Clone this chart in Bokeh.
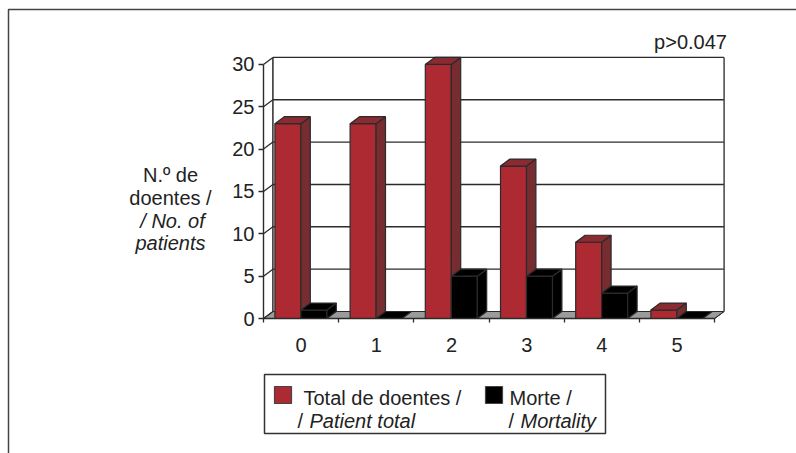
from bokeh.plotting import figure
from bokeh.models import LinearAxis, FixedTicker, Range1d
from bokeh.core.properties import value
from bokeh.embed import file_html
from bokeh.resources import INLINE

categories = ["0", "1", "2", "3", "4", "5"]
patient_total = [23, 23, 30, 18, 9, 1]
mortality = [1, 0, 5, 5, 3, 0]
y_ticks = [0, 5, 10, 15, 20, 25, 30]

FONT = "Liberation Sans"
SIZE = "20px"
W, H = 796, 453
ORIGIN = 0
X0, XU = 263.0, 75.2     # page px of category edge 0, px per category
Y0, YU = 318.0, 8.47     # page px of value 0, px per unit
DX, DY = 9.4 / XU, 7.0 / YU   # 3-D depth in data units
BAR_OFF, BAR_W = 11.4 / XU, 26.0 / XU

def px(x): return (x - X0) / XU
def py(y): return (Y0 - y) / YU

p = figure(width=W, height=H, output_backend="svg", toolbar_location=None,
           x_range=Range1d(px(ORIGIN), px(ORIGIN + W)), y_range=Range1d(py(ORIGIN + H), py(ORIGIN)),
           min_border=0, min_border_left=0, min_border_right=0, min_border_top=0,
           min_border_bottom=0, outline_line_color=None, x_axis_location=None,
           y_axis_location=None)
p.grid.visible = False
p.background_fill_color = "white"
p.border_fill_color = "white"

INK = "#2b2b2b"
n = len(categories)
RED, RED_SIDE, RED_TOP = "#ae2a33", "#772c30", "#8a2a31"

# outer page rule
p.line([px(8), px(8), px(796)], [py(453), py(9), py(9)], line_color="#444444", line_width=1.5)

# floor
p.patch([0, DX, n + DX, n], [0, DY, DY, 0], fill_color="#9a9c9c", line_color=INK, line_width=1)

# back-wall grid, side-wall diagonals, wall verticals
for t in y_ticks:
    if t:
        p.line([DX, n + DX], [t + DY, t + DY], line_color=INK, line_width=1.4)
    p.line([0, DX], [t, t + DY], line_color=INK, line_width=1.3)
top = y_ticks[-1] + DY
p.line([DX, DX], [DY, top], line_color=INK, line_width=1.5)
p.line([n + DX, n + DX], [DY, top], line_color="#444444", line_width=1.5)
p.line([n, n + DX], [0, DY], line_color=INK, line_width=1)

def bar(x, v, front, side, topc):
    edge = INK
    if v > 0:
        p.quad(left=x, right=x + BAR_W, bottom=0, top=v, fill_color=front, line_color=edge, line_width=1.2)
        p.patch([x + BAR_W, x + BAR_W + DX, x + BAR_W + DX, x + BAR_W], [0, DY, v + DY, v],
                fill_color=side, line_color=edge, line_width=1.2)
    p.patch([x, x + BAR_W, x + BAR_W + DX, x + DX], [v, v, v + DY, v + DY],
            fill_color=topc, line_color=edge, line_width=1.2)

for i in range(n):
    bar(i + BAR_OFF, patient_total[i], RED, RED_SIDE, RED_TOP)
    bar(i + BAR_OFF + BAR_W, mortality[i], "#000000", "#000000", "#000000")

p.line([0, n], [0, 0], line_color=INK, line_width=1.4)

# axes
ya = LinearAxis(fixed_location=0, bounds=(0, 30), ticker=FixedTicker(ticks=y_ticks))
ya.axis_line_color = INK
ya.axis_line_width = 1.4
ya.major_tick_line_color = INK
ya.major_tick_line_width = 1.3
ya.major_tick_out = 5
ya.major_tick_in = 0
ya.minor_tick_line_color = None
ya.major_label_standoff = 4
ya.major_label_text_font = FONT
ya.major_label_text_font_size = SIZE
ya.major_label_text_color = "#222222"
p.add_layout(ya, "left")

xa = LinearAxis(fixed_location=0, bounds=(0, n),
                ticker=FixedTicker(ticks=[i + 0.5 for i in range(n)], minor_ticks=list(range(n + 1))),
                major_label_overrides={i + 0.5: c for i, c in enumerate(categories)})
xa.axis_line_color = None
xa.major_tick_line_color = None
xa.major_tick_out = 0
xa.major_tick_in = 0
xa.minor_tick_line_color = INK
xa.minor_tick_line_width = 1.3
xa.minor_tick_out = 4
xa.minor_tick_in = 0
xa.major_label_standoff = 15
xa.major_label_text_font = FONT
xa.major_label_text_font_size = SIZE
xa.major_label_text_color = "#222222"
p.add_layout(xa, "below")

def txt(x, y, s, align="left", style="normal"):
    p.text([px(x)], [py(y)], text=[s], text_font=value(FONT), text_font_size=value(SIZE),
           text_font_style=style, text_align=align, text_baseline="middle", text_color="#222222")

txt(690, 41, "p>0.047", "center")
txt(170, 174.5, "N.º de", "center")
txt(170, 197.5, "doentes /", "center")
txt(172, 220, "/ No. of", "center", "italic")
txt(170, 242, "patients", "center", "italic")

# legend
p.quad(left=px(264), right=px(605), top=py(374), bottom=py(433), fill_color="white", line_color="#333333", line_width=1.5)
p.quad(left=px(274), right=px(291), top=py(386), bottom=py(403), fill_color=RED, line_color="#444444", line_width=1.2)
p.quad(left=px(485), right=px(502), top=py(386), bottom=py(403), fill_color="#000000", line_color="#444444", line_width=1.2)
txt(303, 397, "Total de doentes /")
txt(297, 420, "/")
txt(309, 420, "Patient total", style="italic")
txt(509, 397, "Morte /")
txt(508, 420, "/")
txt(520, 420, "Mortality", style="italic")

open("out.html", "w").write(file_html(p, INLINE))
